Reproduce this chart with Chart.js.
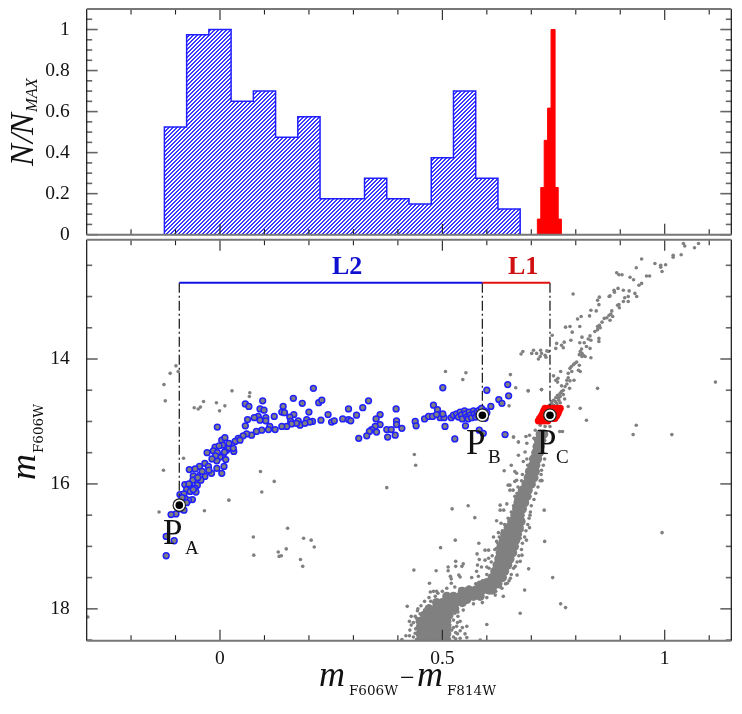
<!DOCTYPE html>
<html>
<head>
<meta charset="utf-8">
<title>Colour-magnitude diagram</title>
<script src="https://cdn.jsdelivr.net/npm/chart.js@4"></script>
<style>
  html, body { margin: 0; padding: 0; background: #fff; }
  #page { position: relative; width: 742px; height: 714px; overflow: hidden; }
  canvas { position: absolute; left: 0; }
</style>
</head>
<body>
<div id="page">
  <canvas id="histChart" width="742" height="250" style="top:0"></canvas>
  <canvas id="cmdChart" width="742" height="477" style="top:237px"></canvas>
</div>
<script>
// histogram bins (bin edges, then N/Nmax per bin)
var blueEdges = [-.125,-.075,-.025,.025,.075,.125,.175,.225,.275,.325,.375,.425,.475,.525,.575,.625,.675];
var blueHeights = [.525,.975,1,.65,.7,.475,.575,.175,.175,.275,.175,.15,.375,.7,.275,.125];
var redEdges = [.7136,.7213,.729,.7367,.7444,.7535,.7605,.7677];
var redHeights = [.076,.23,.46,.617,1,.23,.076];

// axis ticks
var colorMajor = [0,.5,1];
var colorMinor = [-.2,-.1,.1,.2,.3,.4,.6,.7,.8,.9,1.1];
var fracMajor = [0,.2,.4,.6,.8,1];
var fracMinor = [.05,.1,.15,.25,.3,.35,.45,.5,.55,.65,.7,.75,.85,.9,.95,1.05];
var magMajor = [14,16,18];
var magMinor = [12.5,13,13.5,14.5,15,15.5,16.5,17,17.5,18.5];

// reference points and the L1 / L2 bars
var refColors = [-.0915,.59,.742];
var refMags = [16.34,14.9,14.9];
var barMag = 12.78;

// gray stars: [colour, magnitude]
var giantStars = [[1.042,12.15],[1.045,12.19],[1.067,12.22],[1.076,12.15],[1.019,12.34],[1.019,12.37],[1.037,12.33],[.948,12.4],[.978,12.47],[.991,12.5],[1.002,12.49],[.991,12.53],[.994,12.6],[.936,12.54],[.892,12.62],[.897,12.65],[.904,12.65],[.922,12.69],[.93,12.73],[.959,12.67],[.966,12.67],[.948,12.79],[.942,12.82],[.895,12.87],[.886,12.9],[.887,12.93],[.877,12.99],[.875,13],[.907,12.9],[.92,12.91],[.933,12.95],[.937,13],[.918,13],[.91,13.02],[.918,13.08],[.907,13.08],[.897,13.13],[.898,13.18],[.894,13.14],[.853,13.01],[.849,13.06],[.852,13.13],[.794,12.96],[.834,13.22],[.846,13.23],[.831,13.31],[.812,13.32],[.804,13.36],[.881,13.23],[.879,13.28],[.883,13.32],[.875,13.3],[.87,13.34],[.864,13.35],[.877,13.38],[.859,13.41],[.853,13.46],[.849,13.48],[.855,13.5],[.849,13.53],[.843,13.56],[.777,13.49],[.787,13.48],[.809,13.48],[.792,13.57],[.747,13.62],[.832,13.63],[.828,13.68],[.834,13.7],[.852,13.67],[.852,13.72],[.814,13.65],[.789,13.7],[.809,13.74],[.819,13.74],[.824,13.8],[.832,13.83],[.774,13.73],[.768,13.78],[.772,13.82],[.757,13.75],[.755,13.83],[.813,13.84],[.81,13.88],[.814,13.91],[.817,13.94],[.808,13.93],[.821,13.96],[.814,13.96],[.834,13.98],[.681,13.88],[.677,13.92],[.705,13.86],[.701,13.91],[.712,13.91],[.721,13.86],[.735,13.87],[.72,13.96],[.716,14],[.731,13.94],[.733,13.97],[.739,13.88],[.723,13.91],[.802,14.05],[.795,14.09],[.808,14.1],[.787,14.15],[.79,14.12],[.783,14.23],[.791,14.2],[.806,14.18],[.81,14.2],[.798,14.07],[.766,14.2],[.75,14.27],[.76,14.31],[.755,14.34],[.759,14.37],[.783,14.3],[.78,14.34],[.787,14.35],[.796,14.34],[.78,14.4],[.776,14.44],[.786,14.47],[.768,14.43],[.772,14.5],[.768,14.52],[.765,14.55],[.759,14.58],[.772,14.57],[.761,14.63],[.765,14.6],[.75,14.66],[.754,14.68],[.746,14.71],[.757,14.71],[.765,14.7],[.775,14.64],[.741,14.74],[.75,14.74],[.759,14.75],[.745,14.68],[.755,14.62],[.762,14.66]];

var fieldStars = [[.693,14.51],[.723,14.49],[.849,14.47],[.783,14.76],[.81,14.79],[.824,14.98],[.764,15.16],[.936,15.06],[1.114,14.37],[.929,15.21],[1.016,15.21],[-.112,14.23],[-.126,14.41],[-.123,14.67],[-.058,14.78],[-.049,14.8],[-.044,14.77],[-.037,14.68],[-.008,14.7],[-.001,14.83],[.011,14.75],[.027,14.51],[.067,14.54],[.066,14.6],[-.082,15.59],[-.127,15.78],[.091,15.8],[.122,15.96],[.094,16.13],[.02,16.26],[-.137,16.45],[-.035,16.43],[.152,16.71],[.075,16.85],[.188,16.87],[.205,16.9],[.212,17.01],[.149,17.04],[.076,17.14],[.131,17.09],[.138,17.15],[.133,17.16],[.181,17.21],[.186,17.32],[.507,14.2],[.553,14.22],[.546,14.33],[.653,14.25],[.665,14.46],[.693,14.51],[.723,14.49],[.65,14.75],[.66,15.25],[.671,15.33],[.437,15.53],[.44,15.7],[.375,16.06],[-.099,14.11],[-.094,14.2],[.994,16.78],[-.297,18.13],[.522,16.4],[.558,16.35],[.573,16.54],[.529,16.9],[.496,17.02],[.582,16.95],[.436,17.38],[.486,17.39],[.513,17.33],[.513,17.39],[.53,17.24],[.53,17.32],[.547,17.28],[.544,17.32],[.518,17.48],[.52,17.52],[.537,17.46],[.54,17.49],[.471,17.59],[.52,17.59],[.528,17.65],[.566,17.5],[.577,17.4],[.579,17.3],[.578,17.12],[.729,16.42],[.73,16.92],[.694,17.36],[.748,17.5],[.685,17.7],[.637,17.8],[.619,17.78],[.766,17.92],[.777,17.98],[.675,18.07],[.6,18.25],[.421,17.96]];

var branchStars = [[.48,17.72],[.473,17.73],[.487,17.72],[.5,17.72],[.51,17.67],[.484,17.8],[.474,17.88],[.444,18.03],[.439,18.12],[.43,18.12],[.442,18.15],[.426,18.2],[.43,18.26],[.427,18.34],[.44,18.32],[.418,18.43],[.426,18.43],[.442,18.49],[.439,18.39],[.409,18.49],[.532,18.28],[.534,18.22],[.525,18.18],[.534,18.4],[.551,18.4],[.555,18.46],[.513,18.44],[.521,18.34],[.517,18.26],[.528,18.07],[.547,18.02],[.525,17.96],[.544,17.94],[.558,17.88],[.568,17.83],[.585,18.5],[.623,17.64],[.634,17.67],[.646,17.59],[.653,17.51],[.668,17.46],[.664,17.32],[.675,17.24],[.679,17.14],[.689,16.9],[.675,16.87],[.679,16.74],[.696,16.7],[.697,16.5],[.63,16.42],[.638,16.42],[.622,16.59],[.632,16.63],[.626,16.78],[.615,16.85],[.622,16.92],[.622,17.03],[.596,17.06],[.604,17.06],[.583,17.21],[.596,17.22],[.604,17.19],[.588,17.33],[.6,17.33],[.581,17.48],[.63,16.34],[.645,16.32],[.652,16.1],[.648,16.02],[.663,15.96],[.697,16.2],[.705,16.02],[.724,15.95],[.66,15.25],[.671,15.33],[.688,15.24],[.639,15.79],[.655,15.7],[.671,15.54],[.686,15.49],[.69,15.35],[.723,15.78],[.723,15.94],[.663,15.8],[.667,15.83],[.682,15.64],[.652,16.02],[.659,16.1],[.667,15.94],[.663,16.2],[.77,15.16],[.73,15.3],[.723,15.4],[.72,15.59],[.696,15.22],[.706,15.27],[.72,15.06],[.731,15.08],[.742,15.08],[.709,15.14],[.72,15.16],[.55,17.75],[.57,17.92],[.59,17.9],[.54,17.86],[.6,17.82],[.62,17.72],[.47,17.95],[.46,18.02],[.45,18.08],[.535,18.12],[.54,18.35],[.53,18.48],
  [.69,15.6],[.73,15.6],[.692,15.7],[.727,15.7],[.68,15.85],[.722,15.85],[.678,15.95],[.72,15.95],[.67,16.05],[.715,16.05],[.668,16.15],[.71,16.15],[.665,16.25],[.706,16.25],[.66,16.35],[.7,16.35],[.655,16.45],[.698,16.45],[.648,16.55],[.695,16.55],[.64,16.65],[.692,16.65],[.635,16.75],[.688,16.75],[.628,16.85],[.685,16.85],[.625,16.95],[.68,16.95],[.618,17.05],[.678,17.05],[.612,17.15],[.672,17.15],[.61,17.25],[.668,17.25],[.605,17.35],[.66,17.35],[.6,17.45],[.655,17.45],[.59,17.55],[.65,17.55],[.575,17.6],[.642,17.6],[.56,17.65],[.63,17.65],[.54,17.68],[.52,18.1],[.525,18.3],[.53,18.38],[.54,18.2],[.535,18.05],[.54,18.47],[.545,18.3],[.525,18.45],[.555,18.28],[.435,18.22],[.435,18.45],[.445,18],[.452,17.95],[.46,17.88],[.47,17.82],[.49,17.75]];

// crowded part of the branch, drawn with a bigger dot
var coreStars = [[.45,18.5],[.465,18.5],[.48,18.5],[.495,18.5],[.51,18.5],[.45,18.4],[.465,18.4],[.48,18.4],[.495,18.4],[.51,18.4],[.45,18.3],[.465,18.3],[.48,18.3],[.495,18.3],[.51,18.3],[.45,18.2],[.465,18.2],[.48,18.2],[.495,18.2],[.51,18.2],[.46,18.1],[.475,18.1],[.49,18.1],[.505,18.1],[.515,18.1],[.47,18],[.485,18],[.5,18],[.515,18],[.528,18],[.487,17.9],[.5,17.9],[.515,17.9],[.53,17.9],[.545,17.9],[.51,17.8],[.525,17.8],[.54,17.8],[.555,17.8],[.57,17.8],[.585,17.8],[.56,17.7],[.575,17.7],[.59,17.7],[.605,17.7],[.612,17.7],[.595,17.6],[.61,17.6],[.625,17.6],[.612,17.5],[.625,17.5],[.635,17.5],[.618,17.4],[.63,17.4],[.64,17.4],[.623,17.3],[.635,17.3],[.647,17.3],[.627,17.2],[.64,17.2],[.652,17.2],[.63,17.1],[.645,17.1],[.658,17.1],[.632,17],[.648,17],[.662,17],[.637,16.9],[.652,16.9],[.665,16.9],[.64,16.8],[.655,16.8],[.669,16.8],[.648,16.7],[.662,16.7],[.673,16.7],[.656,16.6],[.67,16.6],[.677,16.6],[.663,16.5],[.675,16.5],[.667,16.4],[.68,16.4],[.67,16.3],[.685,16.3],[.675,16.2],[.69,16.2],[.68,16.1],[.693,16.1],[.688,16],[.7,16],[.693,15.9],[.706,15.9],[.696,15.8],[.709,15.8],[.703,15.7],[.71,15.7],[.705,15.6],[.714,15.6],[.71,15.5],[.718,15.5],[.713,15.4],[.72,15.4],[.716,15.3],[.723,15.3],[.72,15.2],[.728,15.2],[.532,17.85],[.545,17.72],[.555,17.75],[.555,17.85],[.57,17.72],[.585,17.62],[.585,17.72],[.6,17.58],[.6,17.68],[.615,17.52],[.615,17.62]];

// horizontal branch, coloured by the histogram they fall in
var blueStars = [[.21,14.47],[.165,14.63],[.185,14.71],[.142,14.76],[.096,14.67],[.057,14.72],[.065,14.76],[.09,14.8],[.099,14.82],[.139,14.85],[.145,14.86],[.222,14.7],[.2,14.85],[.166,14.89],[.122,14.92],[.086,14.92],[.077,14.94],[.062,14.97],[.09,14.98],[.103,14.94],[.103,14.99],[.157,14.93],[.159,15],[.176,14.99],[.195,14.97],[.208,15],[.18,15.06],[.057,15.07],[-.006,15.09],[.202,15.01],[.191,15.03],[.172,15.03],[.161,15.04],[.15,15.08],[.139,15.08],[.124,15.13],[.112,15.08],[.109,15.13],[.094,15.14],[.082,15.16],[.071,15.22],[.06,15.2],[.052,15.23],[.041,15.27],[.034,15.32],[.026,15.38],[.031,15.48],[.015,15.46],[.007,15.54],[0,15.57],[-.007,15.63],[.004,15.3],[.011,15.26],[.006,15.38],[-.011,15.41],[-.002,15.39],[-.015,15.47],[-.029,15.5],[-.006,15.5],[.013,15.61],[-.034,15.67],[-.026,15.72],[-.046,15.72],[-.056,15.76],[-.069,15.77],[.009,15.72],[-.007,15.75],[-.019,15.83],[.004,15.83],[-.034,15.88],[-.045,15.86],[-.06,15.87],[-.052,15.94],[-.043,15.94],[-.061,15.94],[-.051,16.02],[-.079,16.01],[-.067,16.04],[-.075,16.09],[-.056,16.07],[-.054,16.13],[-.067,16.12],[-.09,16.17],[-.081,16.16],[-.062,16.25],[-.071,16.26],[-.079,16.23],[-.081,16.42],[-.099,16.48],[-.11,16.49],[-.103,16.91],[-.121,16.84],[-.121,17.15],[.02,15.42],[.01,15.49],[-.01,15.55],[.02,15.35],[.045,15.3],[.03,15.43],[-.018,15.6],[-.025,15.78],[-.04,15.8],[-.05,15.9],[-.07,16],[-.06,16.09],[-.085,16.22],[-.075,16.3],[-.09,16.4],[.501,14.46],[.6,14.5],[.647,14.41],[.649,14.59],[.627,14.65],[.634,14.71],[.609,14.76],[.48,14.74],[.489,14.81],[.396,14.8],[.334,14.67],[.321,14.78],[.289,14.8],[.307,14.9],[.243,14.89],[.229,14.66],[.227,14.98],[.251,15.01],[.257,14.99],[.276,14.96],[.289,14.97],[.294,14.99],[.36,14.89],[.351,14.96],[.36,15.05],[.349,15.08],[.341,15.13],[.336,15.16],[.33,15.23],[.312,15.27],[.352,15.17],[.375,15.13],[.385,15.13],[.377,15.25],[.394,15.22],[.409,15.11],[.397,14.99],[.397,15.05],[.439,15],[.441,15.07],[.46,14.96],[.469,14.92],[.478,14.92],[.495,14.94],[.504,14.94],[.501,14.88],[.487,14.89],[.506,15.08],[.528,15.28],[.552,15.07],[.583,15.14],[.592,15.19],[.641,15.21],[.52,14.94],[.525,14.9],[.532,14.88],[.536,14.93],[.54,14.85],[.543,14.9],[.545,14.96],[.55,14.83],[.552,14.88],[.555,14.93],[.558,14.96],[.56,14.85],[.563,14.9],[.566,14.94],[.57,14.83],[.572,14.88],[.575,14.93],[.578,14.85],[.58,14.9],[.583,14.82],[.586,14.87],[.588,14.79],[.595,14.83],[.6,14.86],[.596,14.95]];

var redStars = [[.731,14.79],[.738,14.79],[.745,14.79],[.752,14.79],[.759,14.79],[.765,14.79],[.728,14.83],[.735,14.83],[.742,14.83],[.749,14.83],[.756,14.83],[.762,14.83],[.726,14.87],[.733,14.87],[.74,14.87],[.748,14.87],[.755,14.87],[.76,14.87],[.723,14.91],[.73,14.91],[.737,14.91],[.746,14.91],[.752,14.91],[.757,14.91],[.719,14.95],[.725,14.95],[.732,14.95],[.74,14.95],[.748,14.95],[.753,14.95],[.716,14.99],[.722,14.99],[.729,14.99],[.737,14.99]];

var GRAY = '#808080', BLUE = '#2020ff', RED = '#ff0000';
var SERIF = '"Liberation Serif", serif';

function toPoints(list) {
  return list.map(function(p){ return {x: p[0], y: p[1]}; });
}

function stepPoints(edges, heights) {
  var pts = [{x: edges[0], y: 0}];
  heights.forEach(function(h, i){ pts.push({x: edges[i], y: h}); });
  pts.push({x: edges[edges.length - 1], y: 0});
  return pts;
}

function hatchPattern() {
  var c = document.createElement('canvas');
  c.width = 4; c.height = 4;
  var g = c.getContext('2d');
  g.fillStyle = '#fff';
  g.fillRect(0, 0, 4, 4);
  g.fillStyle = '#3a3aff';
  for (var i = 0; i < 4; i++) {
    g.fillRect(i, 3 - i, 1, 1);
    g.fillRect((i + 1) % 4, 3 - i, 1, 1);
  }
  return g.createPattern(c, 'repeat');
}

function drawTick(ctx, x1, y1, x2, y2, horizontal) {
  ctx.strokeStyle = horizontal ? '#666' : '#222';
  ctx.lineWidth = horizontal ? 1.6 : 1.1;
  ctx.beginPath(); ctx.moveTo(x1, y1); ctx.lineTo(x2, y2); ctx.stroke();
}

// inward ticks on all four sides, plus the frame
function framePlugin(yMajor, yMinor) {
  return {
    id: 'frame',
    afterDatasetsDraw: function(chart) {
      var ctx = chart.ctx, a = chart.chartArea, sx = chart.scales.x, sy = chart.scales.y;
      ctx.save();
      function xt(v, len) {
        var p = sx.getPixelForValue(v);
        drawTick(ctx, p, a.top, p, a.top + len);
        drawTick(ctx, p, a.bottom, p, a.bottom - len);
      }
      function yt(v, len) {
        var p = sy.getPixelForValue(v);
        drawTick(ctx, a.left, p, a.left + len, p, true);
        drawTick(ctx, a.right, p, a.right - len, p, true);
      }
      colorMajor.forEach(function(v){ xt(v, 11); });
      colorMinor.forEach(function(v){ xt(v, 5.5); });
      yMajor.forEach(function(v){ yt(v, 11); });
      yMinor.forEach(function(v){ yt(v, 5.5); });
      ctx.strokeStyle = '#111'; ctx.lineWidth = 1.2;
      ctx.beginPath();
      ctx.moveTo(a.left, a.top); ctx.lineTo(a.left, a.bottom);
      ctx.moveTo(a.right, a.top); ctx.lineTo(a.right, a.bottom);
      ctx.stroke();
      ctx.strokeStyle = '#777'; ctx.lineWidth = 2;
      ctx.beginPath();
      ctx.moveTo(a.left, a.top); ctx.lineTo(a.right, a.top);
      ctx.moveTo(a.left, a.bottom); ctx.lineTo(a.right, a.bottom);
      ctx.stroke();
      ctx.restore();
    }
  };
}

function put(ctx, str, x, y, font, color, rot) {
  ctx.save();
  ctx.translate(x, y);
  if (rot) ctx.rotate(rot);
  ctx.font = font;
  ctx.fillStyle = color || '#111';
  ctx.textAlign = 'left';
  ctx.textBaseline = 'alphabetic';
  ctx.fillText(str, 0, 0);
  ctx.restore();
}

var UP = -Math.PI / 2;
var MFONT = 'italic 36px ' + SERIF, BAND = '13.5px "DejaVu Serif", serif';

var histLabels = {
  id: 'histLabels',
  afterDraw: function(chart) {
    var c = chart.ctx;
    put(c, 'N', 33, 166, 'italic 33px ' + SERIF, '#111', UP);
    put(c, '/', 33, 143, 'italic 33px ' + SERIF, '#111', UP);
    put(c, 'N', 33, 135, 'italic 33px ' + SERIF, '#111', UP);
    put(c, 'MAX', 37, 112, 'italic 16.5px ' + SERIF, '#111', UP);
  }
};

var cmdLabels = {
  id: 'cmdLabels',
  afterDraw: function(chart) {
    var c = chart.ctx, dy = -237;
    put(c, 'L2', 332, 274 + dy, 'bold 26px ' + SERIF, '#1010d0');
    put(c, 'L1', 508, 274 + dy, 'bold 26px ' + SERIF, '#d01010');
    put(c, 'P', 163, 544 + dy, '35px ' + SERIF, '#111');
    put(c, 'A', 185, 554 + dy, '19px ' + SERIF, '#111');
    put(c, 'P', 466, 454 + dy, '35px ' + SERIF, '#111');
    put(c, 'B', 488, 463 + dy, '19px ' + SERIF, '#111');
    put(c, 'P', 537, 454 + dy, '35px ' + SERIF, '#111');
    put(c, 'C', 556, 463 + dy, '19px ' + SERIF, '#111');
    put(c, 'm', 319, 686 + dy, MFONT);
    put(c, 'F606W', 349, 695 + dy, BAND);
    put(c, '\u2212', 400, 686 + dy, '26px ' + SERIF);
    put(c, 'm', 417, 686 + dy, MFONT);
    put(c, 'F814W', 447, 695 + dy, BAND);
    put(c, 'm', 35, 480 + dy, MFONT, '#111', UP);
    put(c, 'F606W', 43, 453 + dy, BAND, '#111', UP);
  }
};

function dropPadding(s) {
  s.paddingTop = 0; s.paddingBottom = 0; s.paddingLeft = 0; s.paddingRight = 0;
}

function xAxis(showLabels, height) {
  return {
    type: 'linear', min: -.2997, max: 1.1497,
    border: {display: false}, grid: {display: false},
    afterBuildTicks: function(s){ s.ticks = colorMajor.map(function(v){ return {value: v}; }); },
    afterFit: function(s){ s.height = height; dropPadding(s); },
    ticks: {
      display: showLabels, autoSkip: false, maxRotation: 0, padding: -2,
      color: '#111', font: {family: SERIF, size: 19.5},
      callback: function(v){ return String(v); }
    }
  };
}

function yAxis(min, max, reverse, major) {
  return {
    type: 'linear', min: min, max: max, reverse: reverse,
    border: {display: false}, grid: {display: false},
    afterBuildTicks: function(s){ s.ticks = major.map(function(v){ return {value: v}; }); },
    afterFit: function(s){ s.width = 86.7; dropPadding(s); },
    ticks: {
      autoSkip: false, padding: 9, color: '#111', font: {family: SERIF, size: 19.5},
      callback: function(v){ return String(v); }
    }
  };
}

function chartOptions(scalesX, scalesY, top) {
  return {
    responsive: false, animation: false,
    layout: {autoPadding: false, padding: {top: top, right: 10.7, left: 0, bottom: 0}},
    plugins: {legend: {display: false}, tooltip: {enabled: false}},
    scales: {x: scalesX, y: scalesY}
  };
}

new Chart(document.getElementById('histChart'), {
  type: 'scatter',
  data: {datasets: [
    {data: stepPoints(blueEdges, blueHeights), showLine: true, stepped: 'before', fill: 'origin',
     backgroundColor: hatchPattern(), borderColor: BLUE, borderWidth: 1.5, pointRadius: 0},
    {data: stepPoints(redEdges, redHeights), showLine: true, stepped: 'before', fill: 'origin',
     backgroundColor: RED, borderColor: RED, borderWidth: 1, pointRadius: 0}
  ]},
  options: chartOptions(xAxis(false, 15.3), yAxis(0, 1.1, false, fracMajor), 9),
  plugins: [framePlugin(fracMajor, fracMinor), histLabels]
});

function guide(i) {
  return {
    data: [{x: refColors[i], y: barMag}, {x: refColors[i], y: refMags[i]}],
    showLine: true, borderColor: '#222', borderWidth: 1.3, borderDash: [10, 3, 2, 3],
    pointRadius: 0, order: 3
  };
}

function stars(list, radius, order) {
  return {data: toPoints(list), pointRadius: radius, pointBorderWidth: 0,
          backgroundColor: GRAY, borderColor: GRAY, order: order};
}

var refPoints = refColors.map(function(c, i){ return {x: c, y: refMags[i]}; });

new Chart(document.getElementById('cmdChart'), {
  type: 'scatter',
  data: {datasets: [
    stars(giantStars, 1.8, 8), stars(fieldStars, 1.8, 8), stars(branchStars, 1.8, 8), stars(coreStars, 4.6, 8),
    {data: toPoints(blueStars), pointRadius: 2.9, pointBorderWidth: 1.5, backgroundColor: GRAY, borderColor: BLUE, order: 6},
    {data: toPoints(redStars), pointRadius: 2.9, pointBorderWidth: 1.5, backgroundColor: RED, borderColor: RED, order: 6},
    guide(0), guide(1), guide(2),
    {data: [{x: refColors[0], y: barMag}, {x: refColors[1], y: barMag}], showLine: true, borderColor: '#1010e0', borderWidth: 2, pointRadius: 0, order: 2},
    {data: [{x: refColors[1], y: barMag}, {x: refColors[2], y: barMag}], showLine: true, borderColor: '#e01010', borderWidth: 2, pointRadius: 0, order: 2},
    {data: refPoints, pointRadius: 6.2, pointBorderWidth: 1.2, backgroundColor: '#fff', borderColor: '#222', order: 1},
    {data: refPoints, pointRadius: 3.8, pointBorderWidth: 0, backgroundColor: '#000', borderColor: '#000', order: 0}
  ]},
  options: chartOptions(xAxis(true, 73.3), yAxis(12.09, 18.51, true, magMajor), 2.7),
  plugins: [framePlugin(magMajor, magMinor), cmdLabels]
});
</script>
</body>
</html>
